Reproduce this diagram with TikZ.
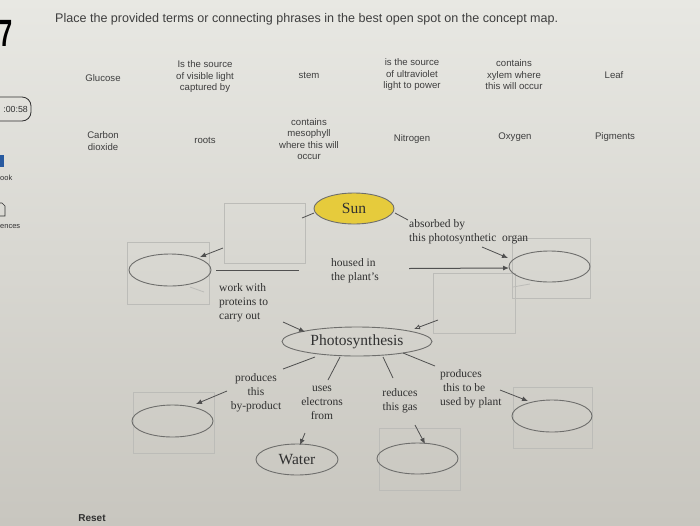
\documentclass[tikz,border=0pt]{standalone}
\usepackage{fontspec}
\setmainfont{Liberation Serif}
\setsansfont{Liberation Sans}
\usetikzlibrary{arrows.meta,shapes.geometric}
\definecolor{bgtop}{RGB}{232,232,227}
\definecolor{bgbot}{RGB}{200,198,191}
\definecolor{ink}{RGB}{48,48,48}
\definecolor{termink}{RGB}{62,62,62}
\definecolor{boxline}{RGB}{188,188,184}
\definecolor{ellline}{RGB}{110,110,108}
\definecolor{conn}{RGB}{80,80,80}
\definecolor{sunfill}{RGB}{230,203,60}
\definecolor{iconblue}{RGB}{40,90,160}
\begin{document}
\begin{tikzpicture}[x=1pt,y=-1pt,
  term/.style={font=\sffamily\fontsize{9.6}{11.5}\selectfont, text=termink, align=center, inner sep=0},
  lab/.style={font=\fontsize{11.5}{14}\selectfont, text=ink, inner sep=0},
  conc/.style={ellipse, draw=ellline, line width=0.9pt, minimum width=81, minimum height=31, inner sep=0, font=\fontsize{15.5}{17}\selectfont, text=ink},
  dropbox/.style={draw=boxline, line width=0.6pt, inner sep=0},
  link/.style={draw=conn, line width=0.8pt},
  arr/.style={link, -{Latex[length=6pt,width=5pt]}},
  oarr/.style={link, -{Latex[open,length=6pt,width=5pt]}},
  side/.style={font=\sffamily\fontsize{7.5}{9}\selectfont, text=ink, inner sep=0}
]
\useasboundingbox (0,0) rectangle (700,525);
\clip (0,0) rectangle (700,525);
\shade[top color=bgtop, bottom color=bgbot] (0,0) rectangle (700,525);

% side panel remnants
\node[font=\sffamily\bfseries\fontsize{38}{38}\selectfont, text=black, anchor=base west, inner sep=0, xscale=0.62] (qnum) at (-0.5,46) {7};
\draw[ink, line width=0.8pt, rounded corners=9] (-25,97) rectangle (31,121);
\node[font=\sffamily\fontsize{8.8}{10}\selectfont, text=ink, anchor=east, inner sep=0] (timer) at (28,109) {:00:58};
\fill[iconblue] (-4,155) rectangle (4,167);
\node[side, anchor=west] (ebook) at (0,178) {ook};
\draw[ink, line width=0.6pt] (-4,203) -- (2,203) -- (5,206) -- (5,216) -- (-4,216);
\node[side, anchor=west] (refs) at (0,227) {ences};
\node[font=\sffamily\bfseries\fontsize{10}{12}\selectfont, text=ink, inner sep=0] (reset) at (92,518) {Reset};

% title
\node[font=\sffamily\fontsize{12.55}{14}\selectfont, text=termink, anchor=west, inner sep=0] (title) at (55,19) {Place the provided terms or connecting phrases in the best open spot on the concept map.};

% term bank
\node[term] (t1) at (103,78) {Glucose};
\node[term] (t2) at (205,77) {Is the source\\of visible light\\captured by};
\node[term] (t3) at (309,75) {stem};
\node[term] (t4) at (412,75) {is the source\\of ultraviolet\\light to power};
\node[term] (t5) at (514,75) {contains\\xylem where\\this will occur};
\node[term] (t6) at (614,75) {Leaf};
\node[term] (t7) at (103,141) {Carbon\\dioxide};
\node[term] (t8) at (205,140) {roots};
\node[term] (t9) at (309,139) {contains\\mesophyll\\where this will\\occur};
\node[term] (t10) at (412,139) {Nitrogen};
\node[term] (t11) at (515,137) {Oxygen};
\node[term] (t12) at (615,137) {Pigments};

% drop boxes
\node[dropbox, minimum width=81, minimum height=60] (bx1) at (264.5,233) {};
\node[dropbox, minimum width=82, minimum height=62] (bx2) at (168,273) {};
\node[dropbox, minimum width=78, minimum height=60] (bx3) at (551,268) {};
\node[dropbox, minimum width=82, minimum height=60] (bx4) at (474,303) {};
\node[dropbox, minimum width=81, minimum height=61] (bx5) at (173.5,422.5) {};
\node[dropbox, minimum width=81, minimum height=62] (bx6) at (419.5,459) {};
\node[dropbox, minimum width=79, minimum height=61] (bx7) at (552.5,417.5) {};

% concepts
\node[conc, fill=sunfill, minimum width=80] (sun) at (354,208.5) {Sun};
\node[conc, minimum width=82, minimum height=32] (e1) at (170,270) {};
\node[conc] (e2) at (549.5,266.5) {};
\node[conc, minimum width=150, minimum height=29] (photo) at (357,341.5) {Photosynthesis};
\node[conc, minimum height=32] (e3) at (172.5,421) {};
\node[conc, minimum width=82] (water) at (297,459.5) {Water};
\node[conc] (e4) at (417.5,458.5) {};
\node[conc, minimum width=80, minimum height=32] (e5) at (552,416) {};

% link labels
\node[lab, align=left, anchor=west] (l1) at (409,232) {absorbed by\\this photosynthetic\ \ organ};
\node[lab, align=left, anchor=west] (l2) at (331,270.5) {housed in\\the plant's};
\node[lab, align=left, anchor=west] (l3) at (219,303) {work with\\proteins to\\carry out};
\node[lab, align=center] (l4) at (256,393) {produces\\this\\by-product};
\node[lab, align=center] (l5) at (322,403) {uses\\electrons\\from};
\node[lab, align=center] (l6) at (400,400.5) {reduces\\this gas};
\node[lab, align=left, anchor=west] (l7) at (440,388.5) {produces\\\ this to be\\used by plant};

% connector end points
\coordinate (a1) at (302,218); \coordinate (a2) at (314,213);
\coordinate (b1) at (223,248); \coordinate (b2) at (200,257);
\coordinate (c1) at (216,270); \coordinate (c2) at (299,270);
\coordinate (d1) at (409,268.5); \coordinate (d2) at (509,268);
\coordinate (f1) at (395,213); \coordinate (f2) at (408,220);
\coordinate (g1) at (482,247); \coordinate (g2) at (508,258);
\coordinate (h1) at (190,287); \coordinate (h2) at (204,292);
\coordinate (i1) at (283,322); \coordinate (i2) at (305,332);
\coordinate (j1) at (513,287); \coordinate (j2) at (530,284);
\coordinate (k1) at (438,320); \coordinate (k2) at (414,329);
\coordinate (m1) at (315,357); \coordinate (m2) at (283,369);
\coordinate (n1) at (340,357); \coordinate (n2) at (328,380);
\coordinate (o1) at (383,357); \coordinate (o2) at (393,378);
\coordinate (p1) at (403,353); \coordinate (p2) at (435,366);
\coordinate (q1) at (227,391); \coordinate (q2) at (196,404);
\coordinate (r1) at (305,433); \coordinate (r2) at (300,445);
\coordinate (s1) at (415,425); \coordinate (s2) at (425,444);
\coordinate (u1) at (500,390); \coordinate (u2) at (528,401);

% connectors
\draw[link] (a1) -- (a2);
\draw[arr] (b1) -- (b2);
\draw[link, line width=1pt] (c1) -- (c2);
\draw[arr, line width=1pt] (d1) -- (d2);
\draw[link] (f1) -- (f2);
\draw[arr] (g1) -- (g2);
\draw[link, draw=boxline] (h1) -- (h2);
\draw[arr] (i1) -- (i2);
\draw[link, draw=boxline] (j1) -- (j2);
\draw[oarr] (k1) -- (k2);
\draw[link] (m1) -- (m2);
\draw[link] (n1) -- (n2);
\draw[link] (o1) -- (o2);
\draw[link] (p1) -- (p2);
\draw[arr] (q1) -- (q2);
\draw[arr] (r1) -- (r2);
\draw[arr] (s1) -- (s2);
\draw[arr] (u1) -- (u2);
\end{tikzpicture}
\end{document}
